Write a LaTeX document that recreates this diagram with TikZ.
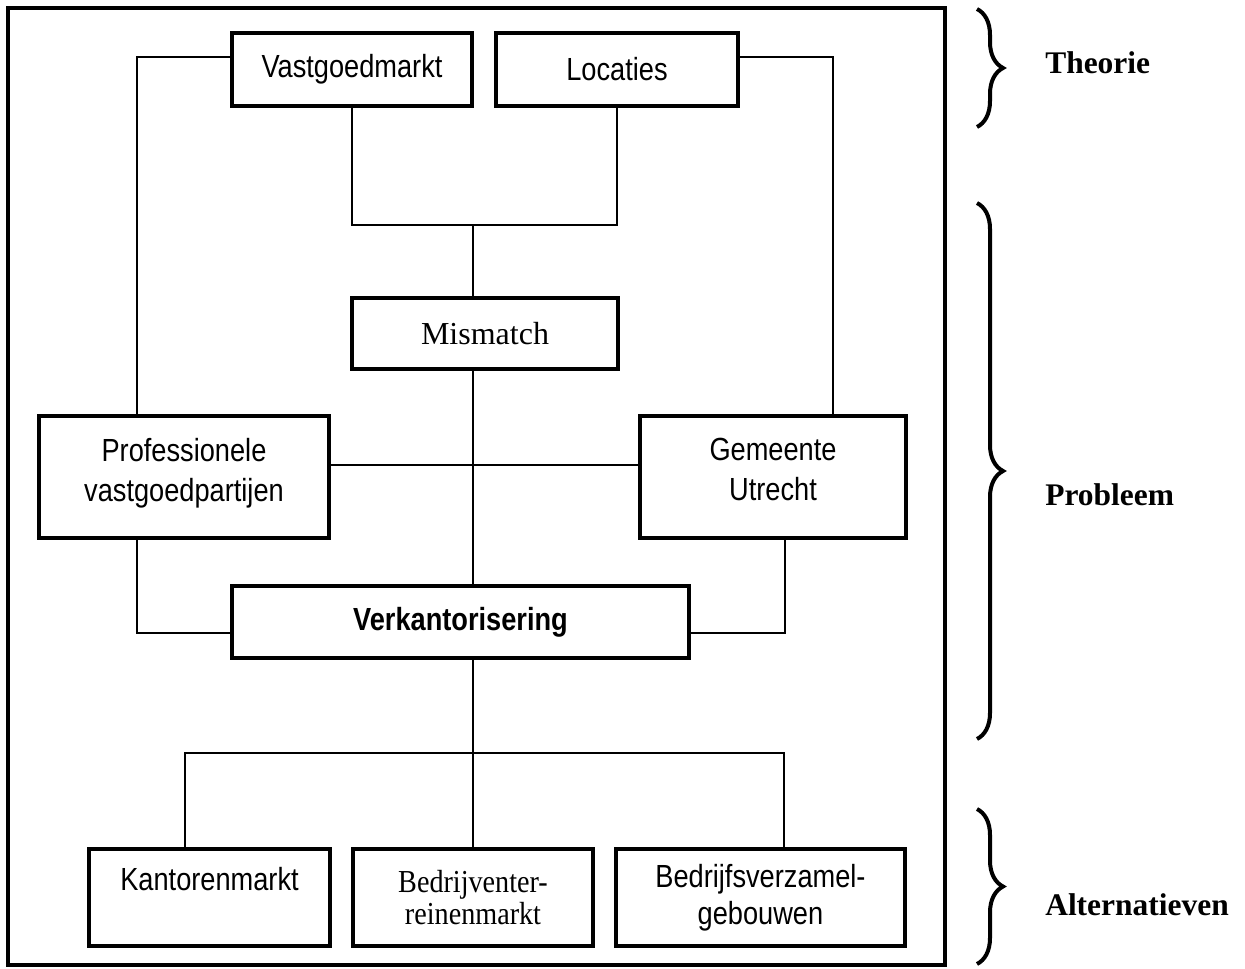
\documentclass[tikz,border=0pt]{standalone}
\usepackage{fontspec}
\setmainfont{Liberation Serif}
\newfontfamily\boxfont{Liberation Sans}[FakeStretch=0.85]
\newfontfamily\narrowserif{Liberation Serif}[FakeStretch=0.88]
\usetikzlibrary{calc,decorations.pathreplacing}

\begin{document}
\begin{tikzpicture}[x=0.75pt,y=-0.75pt]
    \tikzstyle{box}=[draw,line width=2.6pt,inner sep=0pt,outer sep=0pt,anchor=north west,align=center,font=\boxfont\fontsize{24}{28}\selectfont]
    \tikzstyle{link}=[line width=1.1pt]
    \tikzstyle{brace}=[decorate,decoration={brace,amplitude=19.5pt},line width=3pt]
    \tikzstyle{part}=[anchor=west,inner sep=0pt,font=\bfseries\fontsize{23.6}{28}\selectfont]
    \useasboundingbox (0,0) rectangle (1245,969);
    \draw[line width=3pt] (8,8) rectangle (945,965);

    \node[box,minimum width=180pt,minimum height=54.75pt] (vg) at (232,33) {Vastgoedmarkt};
    \node[box,minimum width=181.5pt,minimum height=54.75pt] (loc) at (496,33) {Locaties};
    \node[box,minimum width=199.5pt,minimum height=53.25pt,font=\fontsize{24}{28}\selectfont] (mm) at (352,298) {Mismatch};
    \node[box,minimum width=217.5pt,minimum height=91.5pt] (prof) at (39,416) {Professionele\\[2pt]vastgoedpartijen\\[-17pt]\mbox{}};
    \node[box,minimum width=199.5pt,minimum height=91.5pt] (gem) at (640,416) {Gemeente\\[2pt]Utrecht\\[-17pt]\mbox{}};
    \node[box,minimum width=342.75pt,minimum height=54pt,font=\boxfont\bfseries\fontsize{24}{28}\selectfont] (verk) at (232,586) {Verkantorisering};
    \node[box,minimum width=180.75pt,minimum height=72.75pt] (km) at (89,849) {Kantorenmarkt\\\mbox{}};
    \node[box,minimum width=180pt,minimum height=72.75pt,font=\narrowserif\fontsize{24}{23.5}\selectfont] (bm) at (353,849) {Bedrijventer-\\reinenmarkt};
    \node[box,minimum width=216.75pt,minimum height=72.75pt] (bv) at (616,849) {Bedrijfsverzamel-\\gebouwen};

    \coordinate (top) at (473,225);
    \coordinate (fork) at (473,753);
    \draw[link] ($(vg.north west)+(0,24)$) -| ($(prof.north west)+(98,0)$);
    \draw[link] ($(loc.north east)+(0,24)$) -| ($(gem.north west)+(193,0)$);
    \draw[link] (vg.south) |- (top) -| (loc.south);
    \draw[link] (top) -- (top |- mm.north);
    \draw[link] (top |- mm.south) -- (top |- verk.north);
    \draw[link] ($(prof.north east)+(0,49)$) -- ($(gem.north west)+(0,49)$);
    \draw[link] ($(prof.south west)+(98,0)$) |- ($(verk.north west)+(0,47)$);
    \draw[link] ($(gem.south west)+(145,0)$) |- ($(verk.north east)+(0,47)$);
    \draw[link] (top |- verk.south) -- (fork);
    \draw[link] ($(km.north west)+(96,0)$) |- (fork) -| ($(bv.north west)+(168,0)$);
    \draw[link] (fork) -- (bm.north);

    \draw[brace] (977,9) -- (977,127);
    \draw[brace] (977,203) -- (977,739);
    \draw[brace] (977,809) -- (977,964);
    \node[part] (theorie) at (1045,63) {Theorie};
    \node[part] (probleem) at (1045,495) {Probleem};
    \node[part] (alt) at (1045,905) {Alternatieven};
\end{tikzpicture}
\end{document}
